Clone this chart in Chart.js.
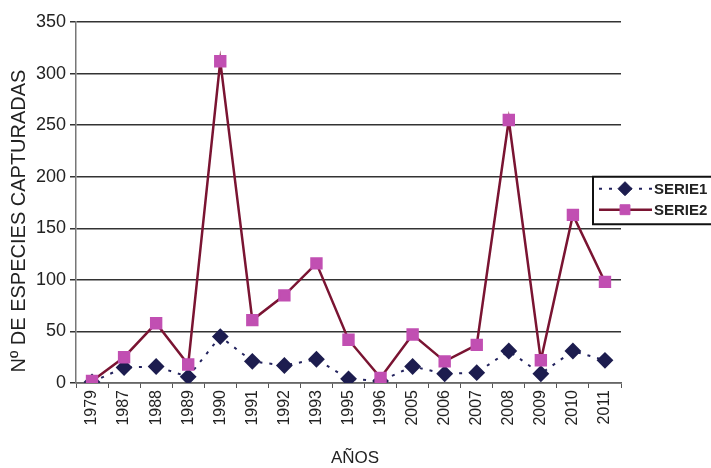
<!DOCTYPE html>
<html>
<head>
<meta charset="utf-8">
<script src="https://cdn.jsdelivr.net/npm/chart.js@4"></script>
<style>
  html, body { margin: 0; padding: 0; background: #fff; }
  #wrap { width: 711px; height: 468px; position: relative; }
</style>
</head>
<body>
<div id="wrap"><canvas id="chart"></canvas></div>
<script>
// Años de muestreo
const years = ["1979", "1987", "1988", "1989", "1990", "1991", "1992", "1993", "1995",
  "1996", "2005", "2006", "2007", "2008", "2009", "2010", "2011"];

// Valores
const serie1 = [1, 15, 16, 6, 45, 21, 17, 23, 4, 2, 16, 9, 10, 31, 9, 31, 22];
const serie2 = [2, 25, 58, 18, 312, 61, 85, 116, 42, 5, 47, 21, 37, 255, 22, 163, 98];

const yTicks = [0, 50, 100, 150, 200, 250, 300, 350];

const yTitle = "Nº DE ESPECIES CAPTURADAS";
const xTitle = "AÑOS";

const font = "'Liberation Sans', Arial, sans-serif";

// Títulos de los ejes, puestos donde están en el original
const axisTitles = {
  id: "axisTitles",
  afterDraw(chart) {
    const ctx = chart.ctx;
    ctx.save();
    ctx.fillStyle = "#222";
    ctx.textAlign = "center";
    ctx.textBaseline = "middle";
    ctx.font = "20px " + font;
    ctx.translate(19, 221);
    ctx.rotate(-Math.PI / 2);
    ctx.fillText(yTitle, 0, 0);
    ctx.restore();

    ctx.save();
    ctx.fillStyle = "#222";
    ctx.textAlign = "center";
    ctx.textBaseline = "middle";
    ctx.font = "17px " + font;
    ctx.fillText(xTitle, 355, 458);
    ctx.restore();
  }
};

// Leyenda dibujada a mano, en el lado derecho como en el original
const boxLegend = {
  id: "boxLegend",
  afterDraw(chart) {
    const ctx = chart.ctx;
    const y = chart.scales.y;
    const top = y.getPixelForValue(200);
    const bottom = y.getPixelForValue(150) - 4;
    const left = 593;
    ctx.save();
    ctx.fillStyle = "#fff";
    ctx.fillRect(left, top, 711 - left, bottom - top);
    ctx.strokeStyle = "#111";
    ctx.lineWidth = 2;
    ctx.beginPath();
    ctx.moveTo(711, top);
    ctx.lineTo(left, top);
    ctx.lineTo(left, bottom);
    ctx.lineTo(711, bottom);
    ctx.stroke();

    const rows = [
      { ds: chart.data.datasets[0], y: top + 12 },
      { ds: chart.data.datasets[1], y: top + 33 }
    ];
    rows.forEach(r => {
      ctx.strokeStyle = r.ds.borderColor;
      ctx.lineWidth = r.ds.borderWidth;
      ctx.setLineDash(r.ds.borderDash || []);
      ctx.beginPath();
      ctx.moveTo(599, r.y);
      ctx.lineTo(652, r.y);
      ctx.stroke();
      ctx.setLineDash([]);
      ctx.fillStyle = r.ds.pointBackgroundColor;
      ctx.strokeStyle = r.ds.pointBorderColor;
      ctx.lineWidth = 1;
      Chart.helpers.drawPoint(ctx, {
        pointStyle: r.ds.pointStyle, radius: r.ds.pointRadius, rotation: 0, borderWidth: 1
      }, 625, r.y);
      ctx.fillStyle = "#222";
      ctx.font = "bold 15px " + font;
      ctx.textBaseline = "middle";
      ctx.fillText(r.ds.label, 654, r.y + 1);
    });
    ctx.restore();
  }
};

new Chart(document.getElementById("chart"), {
  type: "line",
  data: {
    labels: years,
    datasets: [{
      label: "SERIE1",
      data: serie1,
      borderColor: "#23235e",
      borderWidth: 2,
      borderDash: [3, 7],
      pointStyle: "rectRot",
      pointRadius: 7,
      pointBackgroundColor: "#1d1d4f",
      pointBorderColor: "#1d1d4f",
      order: 2
    }, {
      label: "SERIE2",
      data: serie2,
      borderColor: "#7a1432",
      borderWidth: 2.5,
      pointStyle: "rect",
      pointRadius: 7,
      pointBackgroundColor: "#c14fb2",
      pointBorderColor: "#c14fb2",
      order: 1
    }]
  },
  options: {
    responsive: true,
    maintainAspectRatio: false,
    animation: false,
    layout: { padding: { top: 22, right: 90, left: 0, bottom: 0 } },
    plugins: {
      legend: { display: false },
      tooltip: { enabled: false }
    },
    scales: {
      x: {
        offset: true,
        grid: { display: true, offset: true, drawOnChartArea: false, color: "#555", tickLength: 5 },
        border: { color: "#666", width: 1.5 },
        ticks: {
          color: "#222",
          font: { family: font, size: 16 },
          maxRotation: 90,
          minRotation: 90,
          padding: 2
        },
        afterFit(scale) { scale.height = 85; }
      },
      y: {
        min: 0,
        max: 350,
        afterBuildTicks(scale) { scale.ticks = yTicks.map(v => ({ value: v })); },
        grid: { color: "#333", lineWidth: 1.5, tickLength: 6 },
        border: { color: "#777", width: 1.5 },
        ticks: {
          color: "#222",
          font: { family: font, size: 18 },
          padding: 4
        },
        afterFit(scale) { scale.width = 76; }
      }
    }
  },
  plugins: [axisTitles, boxLegend]
});
</script>
</body>
</html>
